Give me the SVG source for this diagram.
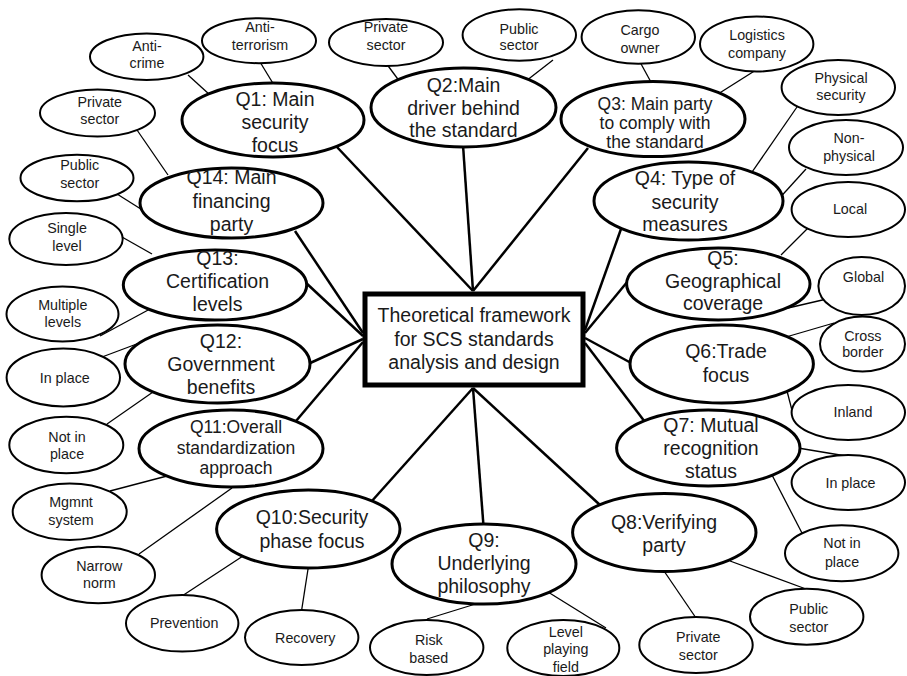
<svg xmlns="http://www.w3.org/2000/svg" width="907" height="676" viewBox="0 0 907 676">
<style>
.bg{fill:#fff}
.q{fill:#fff;stroke:#000;stroke-width:3}
.s{fill:#fff;stroke:#000;stroke-width:2}
.box{fill:#fff;stroke:#000;stroke-width:5}
.m line{stroke:#000;stroke-width:2.5}
.n line{stroke:#000;stroke-width:1.3}
text{font-family:"Liberation Sans",Arial,sans-serif;fill:#1a1a1a;text-anchor:middle}
.qt{font-size:19.5px}
.qs{font-size:17.5px}
.st{font-size:14.3px}
</style>
<rect class="bg" x="0" y="0" width="907" height="676"/>
<g id="connectors">
<g class="m">
<line x1="336" y1="146" x2="473" y2="291"/>
<line x1="463" y1="145" x2="473" y2="291"/>
<line x1="588" y1="148" x2="473" y2="291"/>
<line x1="295" y1="231" x2="363" y2="333"/>
<line x1="304" y1="281" x2="363" y2="336"/>
<line x1="308" y1="364" x2="363" y2="339"/>
<line x1="296" y1="421" x2="363" y2="342"/>
<line x1="621" y1="229" x2="585" y2="330"/>
<line x1="628" y1="281" x2="585" y2="333"/>
<line x1="633" y1="364" x2="585" y2="338"/>
<line x1="645" y1="422" x2="585" y2="343"/>
<line x1="371" y1="502" x2="473" y2="388"/>
<line x1="483.5" y1="526" x2="473" y2="388"/>
<line x1="600" y1="505" x2="473" y2="388"/>
</g>
<g class="n">
<line x1="188" y1="75" x2="210" y2="95"/>
<line x1="260" y1="62" x2="274" y2="85"/>
<line x1="386.7" y1="64" x2="400" y2="82"/>
<line x1="553" y1="60" x2="526" y2="81"/>
<line x1="640" y1="62" x2="652" y2="84"/>
<line x1="756" y1="70" x2="718" y2="94"/>
<line x1="797" y1="107" x2="750" y2="175"/>
<line x1="806" y1="169" x2="776" y2="202"/>
<line x1="809" y1="227" x2="781" y2="255"/>
<line x1="831" y1="298" x2="788" y2="308"/>
<line x1="834" y1="323" x2="786" y2="337"/>
<line x1="787" y1="391" x2="794" y2="418"/>
<line x1="798" y1="448" x2="846" y2="456"/>
<line x1="772" y1="475" x2="803" y2="535"/>
<line x1="730" y1="561" x2="806" y2="589"/>
<line x1="664" y1="571" x2="696" y2="618"/>
<line x1="548" y1="592" x2="606" y2="628"/>
<line x1="482" y1="602" x2="427" y2="619"/>
<line x1="243" y1="556" x2="182" y2="596"/>
<line x1="308.5" y1="566" x2="301.5" y2="611"/>
<line x1="167" y1="476" x2="110" y2="491"/>
<line x1="232" y1="488" x2="139" y2="554"/>
<line x1="142" y1="342" x2="102" y2="357"/>
<line x1="153" y1="392" x2="107" y2="424"/>
<line x1="152" y1="254" x2="122" y2="237"/>
<line x1="150" y1="309" x2="100" y2="336"/>
<line x1="168" y1="175" x2="137" y2="130"/>
<line x1="144" y1="211" x2="117" y2="194"/>
</g>
</g>
<g id="center">
<rect class="box" x="365" y="294" width="218" height="91"/>
<text class="qt" x="474"><tspan x="474" y="322">Theoretical framework</tspan><tspan x="474" y="346">for SCS standards</tspan><tspan x="474" y="369">analysis and design</tspan></text>
</g>
<g id="q1">
<ellipse class="q" cx="273" cy="120" rx="91" ry="37"/>
<text class="qt"><tspan x="275" y="106">Q1: Main</tspan><tspan x="275" y="129">security</tspan><tspan x="275" y="152">focus</tspan></text>
</g>
<g id="q2">
<ellipse class="q" cx="463.5" cy="107.5" rx="92.5" ry="39.5"/>
<text class="qt"><tspan x="463.5" y="92">Q2:Main</tspan><tspan x="463.5" y="115">driver behind</tspan><tspan x="463.5" y="137">the standard</tspan></text>
</g>
<g id="q3">
<ellipse class="q" cx="653" cy="119" rx="92" ry="37.5"/>
<text class="qs"><tspan x="655" y="110">Q3: Main party</tspan><tspan x="655" y="129">to comply with</tspan><tspan x="655" y="148">the standard</tspan></text>
</g>
<g id="q4">
<ellipse class="q" cx="688.5" cy="201" rx="94.5" ry="39"/>
<text class="qt"><tspan x="685" y="185">Q4: Type of</tspan><tspan x="685" y="208.5">security</tspan><tspan x="685" y="230.5">measures</tspan></text>
</g>
<g id="q5">
<ellipse class="q" cx="718.3" cy="284" rx="91.7" ry="36"/>
<text class="qt"><tspan x="723" y="265">Q5:</tspan><tspan x="723" y="288">Geographical</tspan><tspan x="723" y="310">coverage</tspan></text>
</g>
<g id="q6">
<ellipse class="q" cx="721.7" cy="364" rx="91.7" ry="39"/>
<text class="qt"><tspan x="726" y="358">Q6:Trade</tspan><tspan x="726" y="381.5">focus</tspan></text>
</g>
<g id="q7">
<ellipse class="q" cx="708.3" cy="448" rx="91.7" ry="38"/>
<text class="qt"><tspan x="711" y="432">Q7: Mutual</tspan><tspan x="711" y="455">recognition</tspan><tspan x="711" y="478">status</tspan></text>
</g>
<g id="q8">
<ellipse class="q" cx="664.3" cy="532.5" rx="91.7" ry="39"/>
<text class="qt"><tspan x="664" y="529">Q8:Verifying</tspan><tspan x="664" y="552">party</tspan></text>
</g>
<g id="q9">
<ellipse class="q" cx="484" cy="564" rx="92" ry="40"/>
<text class="qt"><tspan x="484" y="547">Q9:</tspan><tspan x="484" y="570">Underlying</tspan><tspan x="484" y="593">philosophy</tspan></text>
</g>
<g id="q10">
<ellipse class="q" cx="308.3" cy="529" rx="91.7" ry="39"/>
<text class="qt"><tspan x="312" y="524">Q10:Security</tspan><tspan x="312" y="548">phase focus</tspan></text>
</g>
<g id="q11">
<ellipse class="q" cx="231" cy="448.5" rx="92" ry="38.5"/>
<text class="qs"><tspan x="236" y="433">Q11:Overall</tspan><tspan x="236" y="454">standardization</tspan><tspan x="236" y="474">approach</tspan></text>
</g>
<g id="q12">
<ellipse class="q" cx="217.5" cy="364" rx="92.5" ry="39"/>
<text class="qt"><tspan x="221" y="348">Q12:</tspan><tspan x="221" y="371">Government</tspan><tspan x="221" y="394">benefits</tspan></text>
</g>
<g id="q13">
<ellipse class="q" cx="215" cy="285" rx="91.7" ry="35"/>
<text class="qt"><tspan x="217.5" y="265">Q13:</tspan><tspan x="217.5" y="288">Certification</tspan><tspan x="217.5" y="311">levels</tspan></text>
</g>
<g id="q14">
<ellipse class="q" cx="231.5" cy="203" rx="91.5" ry="35"/>
<text class="qt"><tspan x="231.5" y="184">Q14: Main</tspan><tspan x="231.5" y="207.5">financing</tspan><tspan x="231.5" y="231">party</tspan></text>
</g>
<g id="anti-crime">
<ellipse class="s" cx="146.7" cy="56.7" rx="56.7" ry="23.3"/>
<text class="st"><tspan x="147" y="51">Anti-</tspan><tspan x="147" y="68">crime</tspan></text>
</g>
<g id="anti-terrorism">
<ellipse class="s" cx="259" cy="40.7" rx="57" ry="22.5"/>
<text class="st"><tspan x="260" y="32">Anti-</tspan><tspan x="260" y="50">terrorism</tspan></text>
</g>
<g id="q2-private">
<ellipse class="s" cx="386" cy="42.5" rx="57" ry="23.5"/>
<text class="st"><tspan x="386" y="32">Private</tspan><tspan x="386" y="49.5">sector</tspan></text>
</g>
<g id="q2-public">
<ellipse class="s" cx="519.3" cy="35" rx="56.7" ry="25.7"/>
<text class="st"><tspan x="519" y="34">Public</tspan><tspan x="519" y="50">sector</tspan></text>
</g>
<g id="cargo-owner">
<ellipse class="s" cx="638.3" cy="37" rx="56.7" ry="26.7"/>
<text class="st"><tspan x="640" y="35">Cargo</tspan><tspan x="640" y="52.5">owner</tspan></text>
</g>
<g id="logistics">
<ellipse class="s" cx="756.7" cy="44" rx="56.7" ry="27.5"/>
<text class="st"><tspan x="757" y="40">Logistics</tspan><tspan x="757" y="58">company</tspan></text>
</g>
<g id="physical">
<ellipse class="s" cx="838.3" cy="87.5" rx="56.7" ry="27.5"/>
<text class="st"><tspan x="841" y="83">Physical</tspan><tspan x="841" y="100">security</tspan></text>
</g>
<g id="non-physical">
<ellipse class="s" cx="846" cy="147.5" rx="57" ry="27.5"/>
<text class="st"><tspan x="849" y="143">Non-</tspan><tspan x="849" y="161">physical</tspan></text>
</g>
<g id="local">
<ellipse class="s" cx="848.3" cy="209.5" rx="56.7" ry="27.5"/>
<text class="st" x="850" y="214">Local</text>
</g>
<g id="global">
<ellipse class="s" cx="861.7" cy="286" rx="43.3" ry="29"/>
<text class="st" x="863.5" y="282">Global</text>
</g>
<g id="cross-border">
<ellipse class="s" cx="862.5" cy="344" rx="42.5" ry="27.5"/>
<text class="st"><tspan x="862.8" y="340.5">Cross</tspan><tspan x="862.8" y="357">border</tspan></text>
</g>
<g id="inland">
<ellipse class="s" cx="848.3" cy="412.5" rx="56.7" ry="27.5"/>
<text class="st" x="853" y="417">Inland</text>
</g>
<g id="q7-in-place">
<ellipse class="s" cx="848.3" cy="482.5" rx="56.7" ry="27.5"/>
<text class="st" x="850.5" y="488">In place</text>
</g>
<g id="q7-not-in-place">
<ellipse class="s" cx="841.7" cy="553.3" rx="56.7" ry="28"/>
<text class="st"><tspan x="842" y="548">Not in</tspan><tspan x="842" y="566.5">place</tspan></text>
</g>
<g id="q8-public">
<ellipse class="s" cx="806.7" cy="616.7" rx="56.7" ry="28"/>
<text class="st"><tspan x="808.8" y="614">Public</tspan><tspan x="808.8" y="631.5">sector</tspan></text>
</g>
<g id="q8-private">
<ellipse class="s" cx="696" cy="645" rx="56.7" ry="28"/>
<text class="st"><tspan x="698.3" y="641.5">Private</tspan><tspan x="698.3" y="660">sector</tspan></text>
</g>
<g id="level-playing-field">
<ellipse class="s" cx="563.3" cy="648" rx="56" ry="28"/>
<text class="st"><tspan x="565.8" y="636.5">Level</tspan><tspan x="565.8" y="654">playing</tspan><tspan x="565.8" y="671.5">field</tspan></text>
</g>
<g id="risk-based">
<ellipse class="s" cx="426.7" cy="647.5" rx="56.7" ry="27.5"/>
<text class="st"><tspan x="428.8" y="645">Risk</tspan><tspan x="428.8" y="662.7">based</tspan></text>
</g>
<g id="recovery">
<ellipse class="s" cx="301.7" cy="637.5" rx="56.7" ry="27.5"/>
<text class="st" x="305.3" y="642.7">Recovery</text>
</g>
<g id="prevention">
<ellipse class="s" cx="182.2" cy="623.3" rx="56.2" ry="28.3"/>
<text class="st" x="184.2" y="627.7">Prevention</text>
</g>
<g id="narrow-norm">
<ellipse class="s" cx="98.3" cy="575" rx="56.7" ry="28.3"/>
<text class="st"><tspan x="99.3" y="571">Narrow</tspan><tspan x="99.3" y="588">norm</tspan></text>
</g>
<g id="mgmnt-system">
<ellipse class="s" cx="69.7" cy="511.7" rx="57" ry="28.3"/>
<text class="st"><tspan x="71" y="506.7">Mgmnt</tspan><tspan x="71" y="525">system</tspan></text>
</g>
<g id="q12-not-in-place">
<ellipse class="s" cx="66.3" cy="445" rx="57" ry="28.3"/>
<text class="st"><tspan x="67" y="441.7">Not in</tspan><tspan x="67" y="459">place</tspan></text>
</g>
<g id="q12-in-place">
<ellipse class="s" cx="63.3" cy="377.5" rx="56.7" ry="29"/>
<text class="st" x="64.7" y="383">In place</text>
</g>
<g id="multiple-levels">
<ellipse class="s" cx="62.5" cy="314" rx="56" ry="27.5"/>
<text class="st"><tspan x="62.8" y="310">Multiple</tspan><tspan x="62.8" y="327">levels</tspan></text>
</g>
<g id="single-level">
<ellipse class="s" cx="66" cy="239" rx="56.7" ry="26"/>
<text class="st"><tspan x="67" y="233">Single</tspan><tspan x="67" y="251">level</tspan></text>
</g>
<g id="q14-private">
<ellipse class="s" cx="97.5" cy="113" rx="57.5" ry="23.5"/>
<text class="st"><tspan x="99.8" y="107">Private</tspan><tspan x="99.8" y="124">sector</tspan></text>
</g>
<g id="q14-public">
<ellipse class="s" cx="77" cy="178" rx="56.5" ry="23.3"/>
<text class="st"><tspan x="79.7" y="170">Public</tspan><tspan x="79.7" y="188">sector</tspan></text>
</g>
</svg>
